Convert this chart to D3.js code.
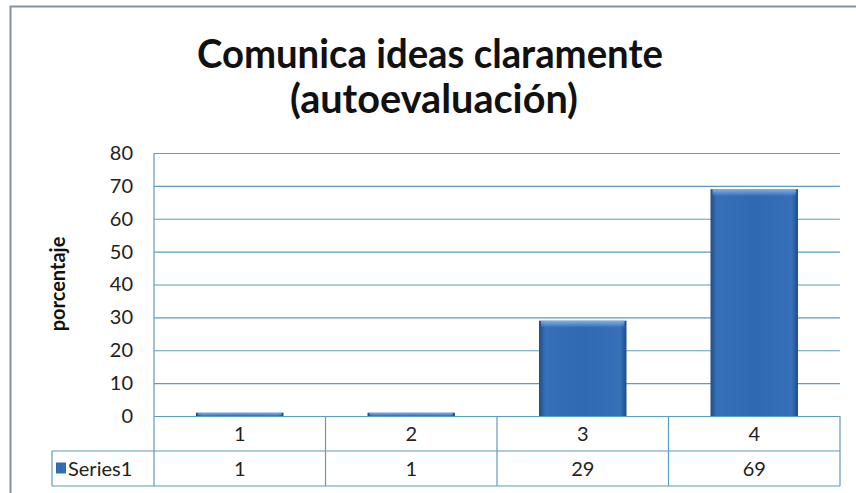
<!DOCTYPE html>
<html>
<head>
<meta charset="utf-8">
<script src="https://cdn.jsdelivr.net/npm/d3@7"></script>
<style>
  body { margin: 0; background: #fff; }
  svg { display: block; font-family: Lato, "Open Sans", sans-serif; }
</style>
</head>
<body>
<div id="chart"></div>
<script>
// chart data
const categories = ["1", "2", "3", "4"];
const values = [1, 1, 29, 69];
const seriesName = "Series1";
const yTicks = [0, 10, 20, 30, 40, 50, 60, 70, 80];
const titleLines = ["Comunica ideas claramente", "(autoevaluación)"];
const yLabel = "porcentaje";

const W = 856, H = 493;
const plot = { left: 154, right: 840, top: 153, bottom: 416 };
const rowH = 35;
const gridColor = "#5b9cc2";
const textColor = "#222";

const svg = d3.select("#chart").append("svg")
    .attr("width", W)
    .attr("height", H);

// outer chart border (right and bottom edges fall outside the picture)
svg.append("rect")
    .attr("x", 10.5).attr("y", 6.5)
    .attr("width", 900).attr("height", 600)
    .attr("fill", "none")
    .attr("stroke", "#86939b")
    .attr("stroke-width", 2);

// title - narrow, tall lettering like the original font
const titleWidths = [466, 288];
svg.append("g").selectAll("text")
    .data(titleLines)
    .enter().append("text")
    .attr("x", (d, i) => i === 0 ? 430 : 434)
    .attr("y", (d, i) => 68 + i * 45)
    .attr("text-anchor", "middle")
    .attr("font-weight", "bold")
    .attr("font-size", 41)
    .attr("fill", "#111")
    .attr("textLength", (d, i) => titleWidths[i])
    .attr("lengthAdjust", "spacingAndGlyphs")
    .text(d => d);

// scales
const x = d3.scaleBand()
    .domain(categories)
    .range([plot.left, plot.right])
    .paddingInner(0.49)
    .paddingOuter(0.245);

const y = d3.scaleLinear()
    .domain([0, 80])
    .range([plot.bottom, plot.top]);

// gridlines
svg.append("g")
    .attr("transform", `translate(${plot.left},0)`)
    .call(d3.axisLeft(y).tickValues(yTicks).tickSize(-(plot.right - plot.left)).tickFormat(""))
    .call(g => g.select(".domain").remove())
    .call(g => g.selectAll("line").attr("stroke", gridColor).attr("stroke-width", 1.2));

// y tick labels
svg.append("g")
    .attr("transform", `translate(${plot.left},0)`)
    .call(d3.axisLeft(y).tickValues(yTicks).tickSize(0).tickPadding(21))
    .call(g => g.select(".domain").remove())
    .call(g => g.selectAll("text")
        .attr("font-family", "Lato, sans-serif")
        .attr("font-size", 20)
        .attr("fill", textColor));

// y axis title
svg.append("text")
    .attr("transform", "translate(65,284) rotate(-90)")
    .attr("text-anchor", "middle")
    .attr("font-weight", "bold")
    .attr("font-size", 20)
    .attr("fill", "#111")
    .text(yLabel);

// bar gradients
const defs = svg.append("defs");
const sideGrad = defs.append("linearGradient").attr("id", "barSide")
    .attr("x1", "0").attr("x2", "1").attr("y1", "0").attr("y2", "0");
[[0, "#1f4d86"], [0.07, "#3670b8"], [0.5, "#2f69b1"], [0.93, "#3670b8"], [1, "#1f4d86"]]
    .forEach(([o, c]) => sideGrad.append("stop").attr("offset", o).attr("stop-color", c));
const topGrad = defs.append("linearGradient").attr("id", "barTop")
    .attr("x1", "0").attr("x2", "0").attr("y1", "0").attr("y2", "1");
topGrad.append("stop").attr("offset", 0).attr("stop-color", "#8fb8e8").attr("stop-opacity", 0.9);
topGrad.append("stop").attr("offset", 1).attr("stop-color", "#8fb8e8").attr("stop-opacity", 0);

const bars = svg.append("g").selectAll("g")
    .data(categories.map((c, i) => ({ category: c, value: values[i] })))
    .enter().append("g");

bars.append("rect")
    .attr("x", d => x(d.category))
    .attr("y", d => y(d.value))
    .attr("width", x.bandwidth())
    .attr("height", d => y(0) - y(d.value))
    .attr("fill", "url(#barSide)");

bars.append("rect")
    .attr("x", d => x(d.category) + 2)
    .attr("y", d => y(d.value))
    .attr("width", x.bandwidth() - 4)
    .attr("height", d => Math.min(7, y(0) - y(d.value)))
    .attr("fill", "url(#barTop)");

// data table
const table = svg.append("g")
    .attr("fill", "none")
    .attr("stroke", gridColor)
    .attr("stroke-width", 1.2);

const tableLeft = 52;
const cellEdges = categories.map((c, i) => plot.left + i * x.step()).concat([plot.right]);

// horizontal lines
[1, 2].forEach(r => {
    table.append("line")
        .attr("x1", tableLeft).attr("x2", plot.right)
        .attr("y1", plot.bottom + r * rowH).attr("y2", plot.bottom + r * rowH);
});
table.append("line")
    .attr("x1", tableLeft).attr("x2", tableLeft)
    .attr("y1", plot.bottom + rowH).attr("y2", plot.bottom + 2 * rowH);

// vertical lines: plot left edge runs from top of plot
table.selectAll(".vline")
    .data(cellEdges)
    .enter().append("line")
    .attr("x1", d => d).attr("x2", d => d)
    .attr("y1", (d, i) => i === 0 ? plot.top : plot.bottom)
    .attr("y2", plot.bottom + 2 * rowH);

// category row
svg.append("g").selectAll("text")
    .data(categories)
    .enter().append("text")
    .attr("x", d => x(d) + x.bandwidth() / 2)
    .attr("y", plot.bottom + rowH / 2 + 7)
    .attr("text-anchor", "middle")
    .attr("font-size", 20)
    .attr("fill", textColor)
    .text(d => d);

// values row
svg.append("g").selectAll("text")
    .data(values)
    .enter().append("text")
    .attr("x", (d, i) => x(categories[i]) + x.bandwidth() / 2)
    .attr("y", plot.bottom + rowH * 1.5 + 7)
    .attr("text-anchor", "middle")
    .attr("font-size", 20)
    .attr("fill", textColor)
    .text(d => d);

// legend key in the table
svg.append("rect")
    .attr("x", 56).attr("y", plot.bottom + rowH * 1.5 - 6)
    .attr("width", 10).attr("height", 11)
    .attr("fill", "url(#barSide)");
svg.append("text")
    .attr("x", 68)
    .attr("y", plot.bottom + rowH * 1.5 + 7)
    .attr("font-size", 20)
    .attr("fill", textColor)
    .text(seriesName);
</script>
</body>
</html>
